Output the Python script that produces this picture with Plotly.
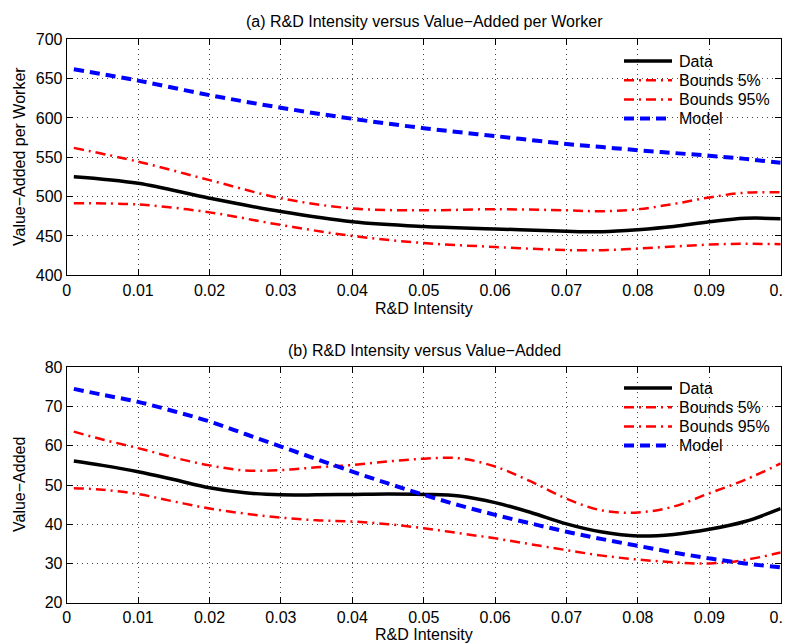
import plotly.graph_objects as go

# panel (a): R&D intensity vs value-added per worker
x_a = [0.001, 0.01, 0.02, 0.03, 0.04, 0.05, 0.06, 0.07, 0.075, 0.08, 0.085, 0.09, 0.095, 0.1]
data_a = [525.4, 517, 498, 481, 468, 462, 459, 456, 455.5, 458, 462, 468, 472.5, 472]
b5_a = [562, 544.5, 521, 498, 485, 482.6, 484, 482.6, 481.4, 484, 490.7, 499, 505, 505.5]
b95_a = [491.5, 490, 480, 464, 450, 441, 436, 432, 432, 434, 436.5, 439, 440, 439.5]
model_a = [662, 647.5, 629, 613, 599, 587, 577, 567, 563, 559, 555.5, 552, 548, 543]

# panel (b): R&D intensity vs value-added
x_b = [0.001, 0.005, 0.01, 0.015, 0.02, 0.025, 0.03, 0.035, 0.04, 0.045, 0.05,
       0.055, 0.06, 0.065, 0.07, 0.075, 0.08, 0.085, 0.09, 0.095, 0.1]
data_b = [56.1, 55.0, 53.4, 51.4, 49.3, 48.0, 47.5, 47.5, 47.6, 47.7, 47.6,
          47.2, 45.5, 43.0, 40.1, 38.0, 37.0, 37.4, 38.7, 40.7, 44.0]
b5_b = [63.6, 61.6, 59.4, 57.0, 55.0, 53.7, 53.8, 54.5, 55.1, 56.0, 56.7,
        56.8, 54.7, 50.9, 46.5, 43.5, 43.0, 44.5, 47.9, 51.3, 55.5]
b95_b = [49.2, 48.8, 47.7, 45.8, 44.0, 42.7, 41.7, 41.0, 40.7, 40.0, 39.0,
         37.7, 36.4, 34.9, 33.4, 32.0, 31.0, 30.3, 30.0, 30.9, 32.8]
model_b = [74.5, 73.0, 71.2, 68.8, 66.2, 63.0, 59.8, 56.6, 53.4, 50.4, 47.5,
           44.8, 42.4, 40.2, 38.1, 36.2, 34.5, 32.8, 31.3, 30.0, 29.0]

x_ticks = [0, 0.01, 0.02, 0.03, 0.04, 0.05, 0.06, 0.07, 0.08, 0.09, 0.1]
x_ticktext = ["0", "0.01", "0.02", "0.03", "0.04", "0.05", "0.06", "0.07", "0.08", "0.09", "0.1"]
names = ["Data", "Bounds 5%", "Bounds 95%", "Model"]

FONT = "Liberation Sans, Arial, sans-serif"
styles = [
    dict(color="black", width=3.5, dash="solid"),
    dict(color="red", width=2.5, dash="10px,5px,2px,5px"),
    dict(color="red", width=2.5, dash="10px,5px,2px,5px"),
    dict(color="blue", width=4, dash="10px,6px"),
]

# page body has an 8px margin, so the figure is a bit smaller and shifted
W, H, OFF = 783, 636, 8


def px(x):
    return (x - OFF) / W


def py(y):
    return 1 - (y - OFF) / H


fig = go.Figure()
for name, ys, st in zip(names, [data_a, b5_a, b95_a, model_a], styles):
    fig.add_trace(go.Scatter(x=x_a, y=ys, name=name, mode="lines", line=dict(shape="spline", **st),
                             xaxis="x", yaxis="y"))
for name, ys, st in zip(names, [data_b, b5_b, b95_b, model_b], styles):
    fig.add_trace(go.Scatter(x=x_b, y=ys, name=name, mode="lines", line=dict(shape="spline", **st),
                             xaxis="x2", yaxis="y2"))

xdom = [px(66.7), px(780.7)]
axis_common = dict(showline=True, linecolor="black", linewidth=1, mirror="ticks",
                   ticks="inside", ticklen=6, tickcolor="black", automargin=False,
                   showgrid=True, gridcolor="#444", gridwidth=1, griddash="1px,4px",
                   zeroline=False, tickfont=dict(size=16, color="black", family=FONT))

fig.update_layout(
    width=W, height=H,
    margin=dict(l=0, r=0, t=0, b=0),
    paper_bgcolor="white", plot_bgcolor="white",
    font=dict(family=FONT, color="black"),
    showlegend=False,
    xaxis=dict(domain=xdom, anchor="y", range=[0, 0.1], tickvals=x_ticks, ticktext=x_ticktext,
               ticklabeloverflow="allow", **axis_common),
    yaxis=dict(domain=[py(275.3), py(39.3)], anchor="x", range=[400, 700], dtick=50, **axis_common),
    xaxis2=dict(domain=xdom, anchor="y2", range=[0, 0.1], tickvals=x_ticks, ticktext=x_ticktext,
                ticklabeloverflow="allow", **axis_common),
    yaxis2=dict(domain=[py(602.7), py(367.3)], anchor="x2", range=[20, 80], dtick=10, **axis_common),
)

# legends drawn by hand (no box, MATLAB style)
for top in [61, 388]:
    for i, (name, st) in enumerate(zip(names, styles)):
        yy = py(top + 19.2 * i)
        fig.add_shape(type="line", xref="paper", yref="paper", x0=px(624), x1=px(672), y0=yy, y1=yy,
                      line=dict(color=st["color"], width=st["width"], dash=st["dash"]))
        fig.add_annotation(text=name, x=px(677), y=yy, xref="paper", yref="paper", xanchor="left",
                           yanchor="middle", showarrow=False, font=dict(size=16, family=FONT, color="black"))

ann = [
    dict(text="(a) R&D Intensity versus Value\u2212Added per Worker", x=px(424.5), y=py(22), size=16),
    dict(text="R&D Intensity", x=px(423.7), y=py(308), size=16),
    dict(text="(b) R&D Intensity versus Value\u2212Added", x=px(424.5), y=py(350.5), size=16),
    dict(text="R&D Intensity", x=px(423.7), y=py(634), size=16),
]
for a in ann:
    fig.add_annotation(text=a["text"], x=a["x"], y=a["y"], xref="paper", yref="paper",
                       xanchor="center", yanchor="middle", showarrow=False,
                       font=dict(size=a["size"], family=FONT, color="black"))
fig.add_annotation(text="Value\u2212Added per Worker", x=px(19), y=py(157), xref="paper", yref="paper",
                   textangle=-90, showarrow=False, xanchor="center", yanchor="middle",
                   font=dict(size=16, family=FONT, color="black"))
fig.add_annotation(text="Value\u2212Added", x=px(19), y=py(485), xref="paper", yref="paper",
                   textangle=-90, showarrow=False, xanchor="center", yanchor="middle",
                   font=dict(size=16, family=FONT, color="black"))

fig.write_html("out.html")
